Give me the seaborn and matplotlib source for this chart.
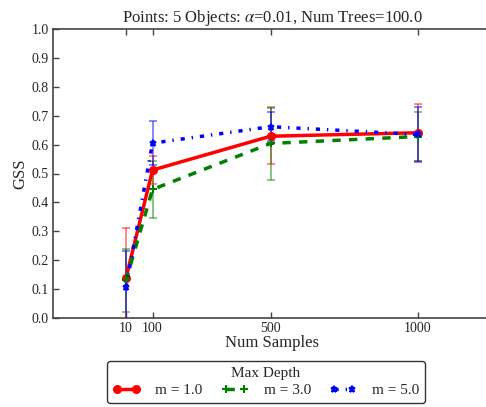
import matplotlib
matplotlib.use("Agg")
import matplotlib.pyplot as plt
import seaborn as sns
import pandas as pd

num_samples = [10, 100, 500, 1000]
depth_labels = ["m = 1.0", "m = 3.0", "m = 5.0"]
gss_m1 = [0.139, 0.512, 0.629, 0.641]
gss_m3 = [0.130, 0.445, 0.604, 0.628]
gss_m5 = [0.106, 0.605, 0.662, 0.635]
err_m1 = [0.173, 0.048, 0.097, 0.098]
err_m3 = [0.109, 0.098, 0.127, 0.085]
err_m5 = [0.127, 0.076, 0.050, 0.094]

sns.set_style("ticks")
plt.rcParams["font.family"] = ["Liberation Serif", "DejaVu Serif"]
plt.rcParams["mathtext.fontset"] = "stix"
plt.rcParams["lines.scale_dashes"] = False
plt.rcParams["legend.numpoints"] = 2

colors = ["red", "green", "blue"]
dash_patterns = [(None, None), (6, 6), (3, 5, 1, 5)]
markers = ["o", "+", "*"]
means = [gss_m1, gss_m3, gss_m5]
errs = [err_m1, err_m3, err_m5]

df = pd.DataFrame({
    "Num Samples": num_samples * 3,
    "GSS": gss_m1 + gss_m3 + gss_m5,
    "Max Depth": [lab for lab in depth_labels for _ in num_samples],
})

fig = plt.figure(figsize=(4.86, 4.07), dpi=100)
ax = fig.add_axes([53 / 486, 1 - 318 / 407, 438 / 486, 289 / 407])

for lab, c, dp, mk, m, e in zip(depth_labels, colors, dash_patterns, markers, means, errs):
    ax.errorbar(num_samples, m, yerr=e, fmt="none", ecolor=c, alpha=0.55,
                elinewidth=1.2, capsize=3, capthick=1.2, zorder=2)
    sub = df[df["Max Depth"] == lab]
    kw = {} if dp[0] is None else {"dashes": dp}
    sns.lineplot(data=sub, x="Num Samples", y="GSS", ax=ax, color=c,
                 marker=mk, markersize=5 if mk != "+" else 6,
                 markeredgecolor=c, markeredgewidth=1.5, linewidth=2.5,
                 label=lab, zorder=3, **kw)

ax.set_xlim(-237.5, 1247.5)
ax.set_ylim(0, 1.0)
ax.set_xticks(num_samples)
ax.set_xticklabels([str(v) for v in num_samples])
ax.set_yticks([i / 10 for i in range(11)])
ax.set_yticklabels([f"{i / 10:.1f}" for i in range(11)])
ax.tick_params(direction="in", length=4, width=1, color="#444444",
               labelsize=10, top=True, pad=3)
for side in ["left", "bottom", "top"]:
    ax.spines[side].set_color("#444444")
    ax.spines[side].set_linewidth(1.2)
ax.spines["right"].set_visible(False)

ax.set_xlabel("Num Samples", fontsize=12, labelpad=0)
ax.set_ylabel("GSS", fontsize=12, labelpad=2)
ax.set_title(r"Points: 5 Objects: $\alpha$=0.01, Num Trees=100.0", fontsize=12, pad=5)

leg = ax.legend(title="Max Depth", ncol=3, loc="upper center",
                bbox_to_anchor=(213 / 438, -0.149), borderaxespad=0,
                fontsize=11, title_fontsize=11,
                frameon=True, fancybox=True, edgecolor="#333333", framealpha=1,
                handlelength=1.8, columnspacing=1.2, handletextpad=1.0,
                borderpad=0.4, labelspacing=0.2)

fig.savefig("out.png", dpi=100)
